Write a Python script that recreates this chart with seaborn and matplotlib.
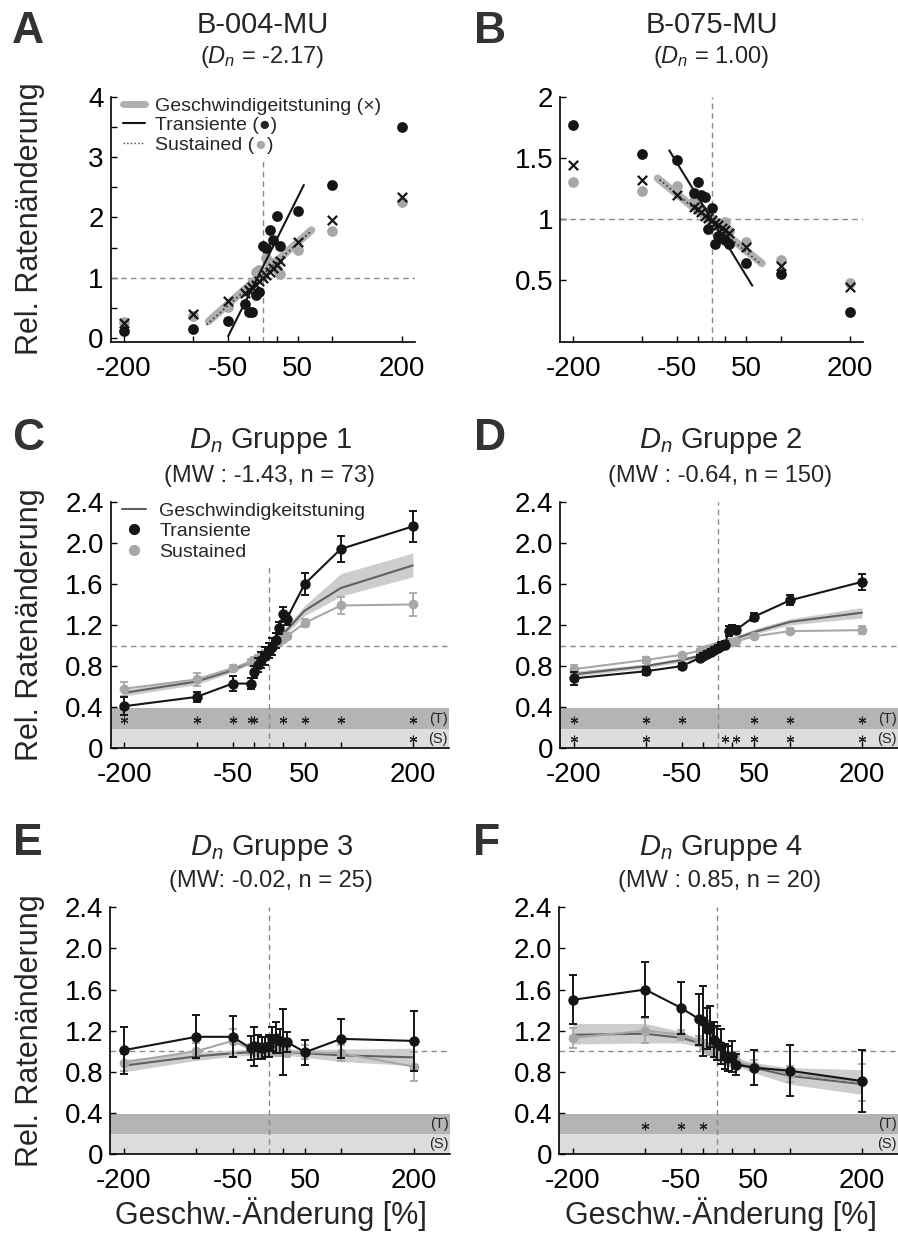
import matplotlib
matplotlib.use('Agg')
import matplotlib.pyplot as plt
import matplotlib.transforms as mtransforms
from matplotlib.lines import Line2D
import seaborn as sns

sns.set_style('ticks')
plt.rcParams['font.family'] = ['Liberation Sans', 'DejaVu Sans']
plt.rcParams['mathtext.fontset'] = 'custom'
plt.rcParams['mathtext.rm'] = 'Liberation Sans'
plt.rcParams['mathtext.it'] = 'Liberation Sans:italic'

# -------------------------------
# data
# -------------------------------
speed = [-200, -100, -50, -25, -20, -15, -10, -5, 0, 5, 10, 15, 20, 25, 50, 100, 200]

# single units (A, B)
a_trans = [0.12, 0.15, 0.28, 0.57, 0.44, 0.44, 0.72, 0.76, 1.53, 1.49, 1.79, 1.63, 2.02, 1.52, 2.11, 2.53, 3.49]
a_sust  = [0.26, 0.36, 0.52, 0.78, 0.85, 0.92, 1.10, 1.13, 1.05, 1.32, 1.20, 1.25, 1.15, 1.07, 1.46, 1.78, 2.26]
a_tun   = [0.25, 0.40, 0.61, 0.74, 0.79, 0.84, 0.88, 0.94, 0.99, 1.05, 1.10, 1.16, 1.21, 1.27, 1.59, 1.96, 2.34]
b_trans = [1.77, 1.53, 1.48, 1.21, 1.30, 1.20, 1.18, 0.92, 1.09, 0.80, 0.86, 0.85, 0.83, 0.80, 0.64, 0.55, 0.24]
b_sust  = [1.30, 1.23, 1.27, 1.15, 1.11, 1.08, 1.05, 1.03, 1.00, 0.97, 0.95, 0.93, 0.98, 0.90, 0.81, 0.67, 0.48]
b_tun   = [1.44, 1.32, 1.20, 1.10, 1.08, 1.06, 1.03, 1.01, 0.99, 0.97, 0.95, 0.93, 0.91, 0.89, 0.77, 0.62, 0.45]

# linear fits: slope, intercept, x from, x to
fit_a_tun   = [0.0102, 1.075, -78, 70]
fit_a_sust  = [0.0103, 1.055, -81, 70]
fit_a_trans = [0.0230, 1.18, -50, 59]
fit_b_tun   = [-0.0046, 0.975, -78, 73]
fit_b_sust  = [-0.0047, 0.970, -75, 72]
fit_b_trans = [-0.0092, 1.00, -61, 59]

# group means (C - F)
c_trans     = [0.41, 0.50, 0.63, 0.63, 0.74, 0.81, 0.86, 0.90, 0.95, 0.99, 1.05, 1.17, 1.31, 1.26, 1.60, 1.94, 2.16]
c_trans_err = [0.09, 0.05, 0.07, 0.05, 0.06, 0.07, 0.08, 0.09, 0.07, 0.08, 0.07, 0.06, 0.07, 0.06, 0.11, 0.13, 0.15]
c_sust      = [0.58, 0.67, 0.78, 0.84, 0.86, 0.88, 0.91, 0.93, 0.96, 0.99, 1.02, 1.04, 1.06, 1.09, 1.22, 1.39, 1.40]
c_sust_err  = [0.07, 0.06, 0.03, 0.03, 0.03, 0.03, 0.03, 0.03, 0.03, 0.03, 0.03, 0.03, 0.03, 0.03, 0.04, 0.08, 0.11]
c_tun       = [0.54, 0.65, 0.76, 0.84, 0.86, 0.88, 0.91, 0.94, 0.97, 1.01, 1.05, 1.09, 1.12, 1.15, 1.34, 1.56, 1.78]
c_tun_lo    = [0.51, 0.62, 0.74, 0.82, 0.84, 0.86, 0.89, 0.92, 0.95, 0.98, 1.02, 1.06, 1.09, 1.12, 1.29, 1.48, 1.67]
c_tun_hi    = [0.57, 0.68, 0.79, 0.87, 0.89, 0.91, 0.94, 0.97, 1.00, 1.04, 1.08, 1.12, 1.15, 1.19, 1.39, 1.70, 1.90]

d_trans     = [0.68, 0.75, 0.80, 0.88, 0.90, 0.92, 0.94, 0.96, 0.98, 1.00, 1.01, 1.14, 1.16, 1.15, 1.28, 1.44, 1.62]
d_trans_err = [0.06, 0.04, 0.03, 0.03, 0.03, 0.03, 0.03, 0.03, 0.03, 0.03, 0.03, 0.05, 0.04, 0.04, 0.04, 0.05, 0.08]
d_sust      = [0.77, 0.86, 0.91, 0.95, 0.96, 0.97, 0.98, 0.99, 1.00, 1.01, 1.02, 1.03, 1.03, 1.04, 1.09, 1.14, 1.15]
d_sust_err  = [0.04, 0.03, 0.02, 0.02, 0.02, 0.02, 0.02, 0.02, 0.02, 0.02, 0.02, 0.02, 0.02, 0.02, 0.02, 0.03, 0.04]
d_tun       = [0.72, 0.80, 0.86, 0.90, 0.91, 0.93, 0.94, 0.96, 0.97, 0.99, 1.01, 1.03, 1.05, 1.07, 1.13, 1.23, 1.32]
d_tun_lo    = [0.70, 0.78, 0.84, 0.88, 0.89, 0.91, 0.92, 0.94, 0.95, 0.97, 0.99, 1.01, 1.03, 1.05, 1.11, 1.20, 1.27]
d_tun_hi    = [0.75, 0.82, 0.88, 0.92, 0.93, 0.95, 0.96, 0.98, 0.99, 1.01, 1.03, 1.05, 1.07, 1.09, 1.16, 1.26, 1.37]

e_trans     = [1.01, 1.14, 1.14, 1.03, 1.05, 1.04, 1.03, 1.04, 1.05, 1.12, 1.13, 1.10, 1.09, 1.09, 0.99, 1.12, 1.10]
e_trans_err = [0.23, 0.21, 0.20, 0.12, 0.19, 0.12, 0.11, 0.10, 0.11, 0.12, 0.15, 0.12, 0.32, 0.10, 0.12, 0.19, 0.29]
e_sust      = [0.89, 1.00, 1.10, 1.02, 1.01, 1.00, 0.99, 0.99, 1.00, 1.01, 1.00, 1.00, 1.00, 0.99, 0.99, 0.98, 0.85]
e_sust_err  = [0.08, 0.08, 0.12, 0.05, 0.05, 0.05, 0.05, 0.05, 0.05, 0.05, 0.05, 0.05, 0.05, 0.05, 0.07, 0.08, 0.14]
e_tun       = [0.86, 0.95, 0.98, 0.99, 0.99, 0.99, 1.00, 1.00, 1.00, 1.00, 1.00, 0.99, 0.99, 0.99, 0.98, 0.96, 0.94]
e_tun_lo    = [0.80, 0.91, 0.95, 0.96, 0.96, 0.96, 0.97, 0.97, 0.97, 0.97, 0.97, 0.96, 0.96, 0.96, 0.94, 0.90, 0.86]
e_tun_hi    = [0.92, 0.99, 1.01, 1.02, 1.02, 1.02, 1.03, 1.03, 1.03, 1.03, 1.03, 1.02, 1.02, 1.02, 1.02, 1.02, 1.03]

f_trans     = [1.50, 1.60, 1.42, 1.31, 1.29, 1.22, 1.24, 1.11, 1.08, 1.05, 0.95, 0.93, 0.95, 0.87, 0.84, 0.81, 0.71]
f_trans_err = [0.24, 0.27, 0.25, 0.25, 0.34, 0.20, 0.20, 0.17, 0.17, 0.17, 0.12, 0.12, 0.15, 0.10, 0.17, 0.25, 0.30]
f_sust      = [1.13, 1.20, 1.16, 1.10, 1.06, 1.03, 1.01, 0.99, 0.97, 0.95, 0.93, 0.92, 0.91, 0.90, 0.86, 0.78, 0.70]
f_sust_err  = [0.10, 0.12, 0.05, 0.05, 0.05, 0.05, 0.05, 0.05, 0.05, 0.05, 0.05, 0.05, 0.05, 0.05, 0.05, 0.08, 0.18]
f_tun       = [1.16, 1.17, 1.13, 1.08, 1.06, 1.04, 1.02, 1.00, 0.98, 0.96, 0.94, 0.92, 0.91, 0.90, 0.84, 0.76, 0.68]
f_tun_lo    = [1.07, 1.08, 1.08, 1.04, 1.02, 1.00, 0.98, 0.96, 0.94, 0.92, 0.90, 0.88, 0.87, 0.86, 0.79, 0.68, 0.58]
f_tun_hi    = [1.27, 1.27, 1.19, 1.12, 1.10, 1.08, 1.06, 1.04, 1.02, 1.00, 0.98, 0.96, 0.95, 0.94, 0.89, 0.84, 0.82]

# significance stars (T = transiente, S = sustained)
c_stars_t = [-200, -100, -50, -25, -20, 20, 50, 100, 200]
c_stars_s = [200]
d_stars_t = [-200, -100, -50, 50, 100, 200]
d_stars_s = [-200, -100, 10, 25, 50, 100, 200]
e_stars_t = []
e_stars_s = []
f_stars_t = [-100, -50, -20]
f_stars_s = []

x_ticks = [-200, -100, -50, -20, 20, 50, 100, 200]
x_ticklabels = ['-200', '', '-50', '', '', '50', '', '200']
grp_yticks = [0, 0.4, 0.8, 1.2, 1.6, 2.0, 2.4]
grp_yticklabels = ['0', '0.4', '0.8', '1.2', '1.6', '2.0', '2.4']

titles = ['B-004-MU', 'B-075-MU', '$D_n$ Gruppe 1', '$D_n$ Gruppe 2', '$D_n$ Gruppe 3', '$D_n$ Gruppe 4']
subtitles = ['($D_n$ = -2.17)', '($D_n$ = 1.00)', '(MW : -1.43, n = 73)', '(MW : -0.64, n = 150)',
             '(MW: -0.02, n = 25)', '(MW : 0.85, n = 20)']

BLACK = '#151515'
GREY = '#a7a7a7'
TUN = '#606060'
DASH = '#8a8a8a'

# -------------------------------
# layout (pixel boxes)
# -------------------------------
W, H = 898, 1233
fig = plt.figure(figsize=(W / 100, H / 100), dpi=100)


def box(l, t, r, b):
    return [l / W, 1 - b / H, (r - l) / W, (b - t) / H]


def ftext(x, y, s, **kw):
    fig.text(x / W, 1 - y / H, s, **kw)


def style(ax, xlim, ylim, yticks, ylabels):
    ax.set_xlim(xlim)
    ax.set_ylim(ylim)
    ax.set_xticks(x_ticks)
    ax.set_xticklabels(x_ticklabels)
    ax.set_yticks(yticks)
    ax.set_yticklabels(ylabels)
    ax.tick_params(direction='in', length=4, width=1, labelsize=20, colors='black')
    ax.tick_params(axis='x', pad=10)
    ax.tick_params(axis='y', pad=5)
    sns.despine(ax=ax)
    for s in ['left', 'bottom']:
        ax.spines[s].set_linewidth(1.2)
        ax.spines[s].set_color('black')
    ax.axhline(1, color=DASH, lw=1, dashes=(4, 3), zorder=1)
    ax.axvline(0, color=DASH, lw=1, dashes=(4, 3), zorder=1)


def fit_line(ax, fit, **kw):
    slope, icpt, x0, x1 = fit
    xs = [x0, x1]
    ys = [icpt + slope * v for v in xs]
    sns.lineplot(x=xs, y=ys, ax=ax, **kw)


def unit_panel(ax, trans, sust, tun, f_tun, f_sust, f_trans):
    sns.scatterplot(x=speed, y=sust, color=GREY, s=60, linewidth=0, ax=ax, zorder=3)
    fit_line(ax, f_tun, color='#b0b0b0', lw=5.5, solid_capstyle='round', zorder=4)
    fit_line(ax, f_sust, color='#333333', lw=1.2, ls=':', zorder=5)
    sns.scatterplot(x=speed, y=trans, color=BLACK, s=60, linewidth=0, ax=ax, zorder=6)
    fit_line(ax, f_trans, color=BLACK, lw=1.5, zorder=7)
    sns.scatterplot(x=speed, y=tun, marker='x', color=BLACK, s=45, linewidth=1.6, ax=ax, zorder=8)


def group_panel(ax, trans, trans_err, sust, sust_err, tun, lo, hi, st_t, st_s):
    ax.axhspan(0.19, 0.39, color='#b4b4b4', lw=0, zorder=0)
    ax.axhspan(0, 0.19, color='#dddddd', lw=0, zorder=0)
    ax.fill_between(speed, lo, hi, color='#cdcdcd', lw=0, zorder=2)
    sns.lineplot(x=speed, y=tun, color=TUN, lw=1.5, ax=ax, zorder=3)
    ax.errorbar(speed, sust, yerr=sust_err, fmt='none', ecolor=GREY, elinewidth=1.3,
                capsize=3, capthick=1.3, zorder=4)
    sns.lineplot(x=speed, y=sust, color=GREY, lw=1.5, marker='o', markersize=7,
                 markeredgewidth=0, ax=ax, zorder=4)
    ax.errorbar(speed, trans, yerr=trans_err, fmt='none', ecolor=BLACK, elinewidth=1.4,
                capsize=3, capthick=1.4, zorder=5)
    sns.lineplot(x=speed, y=trans, color=BLACK, lw=1.5, marker='o', markersize=7.5,
                 markeredgewidth=0, ax=ax, zorder=5)
    ax.plot(st_t, [0.275] * len(st_t), ls='none', marker=(6, 2, 0), ms=5.5, mew=0.8,
            color='#222222', zorder=6)
    ax.plot(st_s, [0.095] * len(st_s), ls='none', marker=(6, 2, 0), ms=5.5, mew=0.8,
            color='#222222', zorder=6)
    tr = mtransforms.blended_transform_factory(ax.transAxes, ax.transData)
    ax.text(0.997, 0.29, '(T)', transform=tr, ha='right', va='center', fontsize=10.5, zorder=6)
    ax.text(0.997, 0.095, '(S)', transform=tr, ha='right', va='center', fontsize=10.5, zorder=6)


# -------------------------------
# A / B: single units
# -------------------------------
axA = fig.add_axes(box(110.7, 96.7, 415, 341.7))
unit_panel(axA, a_trans, a_sust, a_tun, fit_a_tun, fit_a_sust, fit_a_trans)
style(axA, (-219, 219), (-0.06, 4), [0, 0.5, 1, 1.5, 2, 2.5, 3, 3.5, 4],
      ['0', '', '1', '', '2', '', '3', '', '4'])

handles = [Line2D([], [], color='#b0b0b0', lw=5),
           Line2D([], [], color=BLACK, lw=1.5),
           Line2D([], [], color='#444444', lw=1, ls=':')]
labels = ['Geschwindigeitstuning (\u00d7)', 'Transiente (\u25cf)', 'Sustained (']
leg = axA.legend(handles, labels, loc='upper left', bbox_to_anchor=(0.029, 1.015), fontsize=14,
                 frameon=True, facecolor='white', edgecolor='none', framealpha=1, fancybox=False,
                 borderpad=0.2, labelspacing=0.1, handlelength=1.1, handletextpad=0.55,
                 borderaxespad=0)
leg.set_zorder(1.5)
t_sus = leg.get_texts()[2]
dot = axA.annotate('\u25cf', xy=(1, 0), xycoords=t_sus, ha='left', va='bottom', color=GREY,
                   fontsize=14, zorder=1.6, annotation_clip=False)
axA.annotate(')', xy=(1, 0), xycoords=(dot, t_sus), ha='left', va='bottom', fontsize=14,
             zorder=1.6, annotation_clip=False)

axB = fig.add_axes(box(560, 96.7, 863, 341.7))
unit_panel(axB, b_trans, b_sust, b_tun, fit_b_tun, fit_b_sust, fit_b_trans)
style(axB, (-219, 219), (0, 2), [0.5, 1, 1.5, 2], ['0.5', '1', '1.5', '2'])

# -------------------------------
# C - F: groups
# -------------------------------
axC = fig.add_axes(box(110.7, 501.7, 449, 748.3))
axD = fig.add_axes(box(560, 501.7, 898, 748.3))
axE = fig.add_axes(box(110, 907.3, 450, 1154))
axF = fig.add_axes(box(559.3, 907.3, 898, 1154))

group_panel(axC, c_trans, c_trans_err, c_sust, c_sust_err, c_tun, c_tun_lo, c_tun_hi, c_stars_t, c_stars_s)
group_panel(axD, d_trans, d_trans_err, d_sust, d_sust_err, d_tun, d_tun_lo, d_tun_hi, d_stars_t, d_stars_s)
group_panel(axE, e_trans, e_trans_err, e_sust, e_sust_err, e_tun, e_tun_lo, e_tun_hi, e_stars_t, e_stars_s)
group_panel(axF, f_trans, f_trans_err, f_sust, f_sust_err, f_tun, f_tun_lo, f_tun_hi, f_stars_t, f_stars_s)
for ax in [axC, axD, axE, axF]:
    style(ax, (-219, 250), (0, 2.4), grp_yticks, grp_yticklabels)

handles = [Line2D([], [], color=TUN, lw=1.5),
           Line2D([], [], ls='none', marker='o', color=BLACK, ms=7),
           Line2D([], [], ls='none', marker='o', color=GREY, ms=7)]
leg = axC.legend(handles, ['Geschwindigkeitstuning', 'Transiente', 'Sustained'], loc='upper left',
                 bbox_to_anchor=(0.023, 1.015), fontsize=14, frameon=True, facecolor='white',
                 edgecolor='none', framealpha=1, fancybox=False, borderpad=0.2, labelspacing=0.15,
                 handlelength=1.2, handletextpad=0.7, borderaxespad=0)
leg.set_zorder(1.5)

# -------------------------------
# texts
# -------------------------------
title_x = [263, 712, 271, 721, 272, 721]
title_y = [33, 33, 448, 448, 855, 855]
sub_y = [63, 63, 482, 482, 887, 887]
for i in range(6):
    ftext(title_x[i], title_y[i], titles[i], ha='center', va='baseline', fontsize=21)
    ftext(title_x[i] - 1, sub_y[i], subtitles[i], ha='center', va='baseline', fontsize=17)

letters = ['A', 'B', 'C', 'D', 'E', 'F']
letter_xy = [(28, 43), (490, 43), (28, 450), (490, 450), (28, 855), (487, 855)]
for s, (x, y) in zip(letters, letter_xy):
    ftext(x, y, s, ha='center', va='baseline', fontsize=32, fontweight='bold', color='#333333')

for yc in [219, 625, 1031]:
    ftext(30, yc, 'Rel. Ratenänderung', rotation=90, ha='center', va='center', fontsize=22)
for xc in [271, 721]:
    ftext(xc, 1214, 'Geschw.-Änderung [%]', ha='center', va='center', fontsize=22)

fig.savefig('out.png', dpi=100)
